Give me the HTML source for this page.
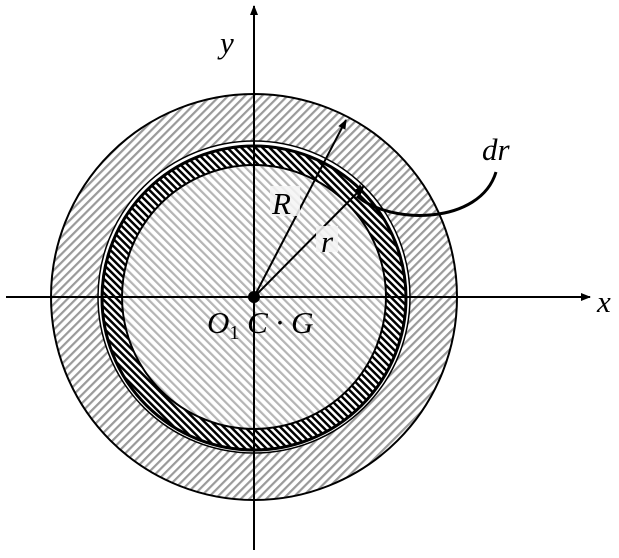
<!DOCTYPE html>
<html><head><style>body{margin:0;background:#fff}</style></head><body>
<svg width="619" height="553" viewBox="0 0 619 553" xmlns="http://www.w3.org/2000/svg">
<defs>
<pattern id="po" width="6" height="6" patternUnits="userSpaceOnUse" patternTransform="rotate(45)"><rect width="6" height="6" fill="#fff"/><rect width="2.2" height="6" fill="#9a9a9a"/></pattern>
<pattern id="pi" width="6" height="6" patternUnits="userSpaceOnUse" patternTransform="rotate(-45)"><rect width="6" height="6" fill="#fff"/><rect width="2.2" height="6" fill="#b5b5b5"/></pattern>
<pattern id="pr" width="5" height="5" patternUnits="userSpaceOnUse" patternTransform="rotate(-45)"><rect width="5" height="5" fill="#fff"/><rect width="2.5" height="5" fill="#000"/></pattern>
<marker id="a" markerWidth="10" markerHeight="8" refX="9" refY="4" orient="auto" markerUnits="userSpaceOnUse"><path d="M0,0 L10,4 L0,8 z" fill="#000"/></marker>
</defs>
<circle cx="254" cy="297" r="203" fill="url(#po)" stroke="#000" stroke-width="2"/>
<circle cx="254" cy="297" r="156" fill="#fff" stroke="#000" stroke-width="1.5"/>
<circle cx="254" cy="298" r="152" fill="url(#pr)" stroke="#000" stroke-width="3"/>
<circle cx="254" cy="297" r="132" fill="url(#pi)" stroke="#000" stroke-width="2"/>
<line x1="6" y1="297" x2="590" y2="297" stroke="#000" stroke-width="2" marker-end="url(#a)"/>
<line x1="254" y1="550" x2="254" y2="6" stroke="#000" stroke-width="2" marker-end="url(#a)"/>
<line x1="254" y1="297" x2="346" y2="120" stroke="#000" stroke-width="2" marker-end="url(#a)"/>
<line x1="254" y1="297" x2="364" y2="186" stroke="#000" stroke-width="2" marker-end="url(#a)"/>
<path d="M357,196 C390,225 480,225 496,172" fill="none" stroke="#000" stroke-width="3"/>
<path d="M356,192 l4,-8 l4,8 z" fill="#000"/>
<circle cx="254" cy="297" r="6" fill="#000"/>
<g font-family="Liberation Serif, serif" font-style="italic" font-size="31" fill="#000">
<rect x="270" y="186" width="30" height="30" fill="#f4f4f4" opacity="0.85"/>
<rect x="316" y="226" width="22" height="26" fill="#f4f4f4" opacity="0.85"/>
<text x="220" y="53">y</text>
<text x="597" y="312">x</text>
<text x="482" y="160">dr</text>
<text x="272" y="214">R</text>
<text x="321" y="252">r</text>
<text x="207" y="333">O<tspan font-size="20" font-style="normal" dy="6">1</tspan><tspan dy="-6"> C · G</tspan></text>
</g>
</svg>
</body></html>
